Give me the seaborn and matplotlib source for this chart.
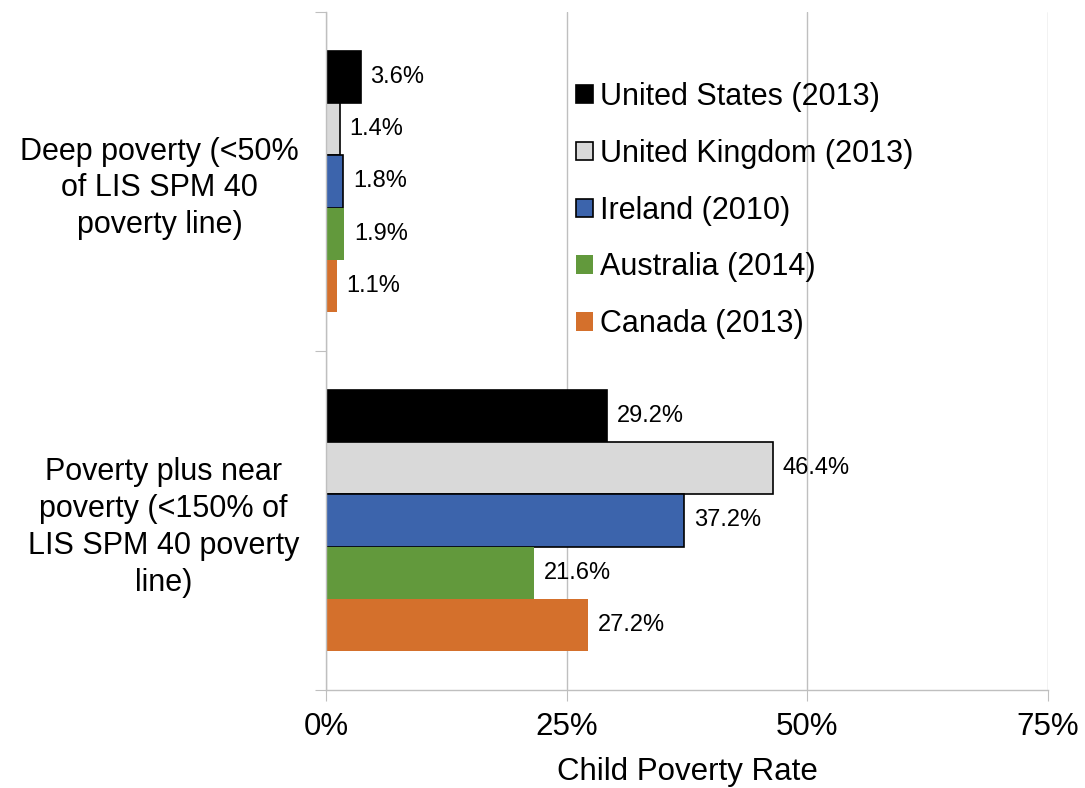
"""Child poverty rate: deep poverty vs poverty plus near poverty, by country"""

import matplotlib
matplotlib.use('Agg')
import matplotlib.pyplot as plt
from matplotlib.ticker import FixedLocator, FuncFormatter
import pandas as pd
import seaborn as sns

# data
measures = ['Deep poverty (<50%\nof LIS SPM 40\npoverty line)',
            'Poverty plus near\npoverty (<150% of\nLIS SPM 40 poverty\nline)']
countries = ['United States (2013)', 'United Kingdom (2013)', 'Ireland (2010)',
             'Australia (2014)', 'Canada (2013)']
deep_rates = [3.6, 1.4, 1.8, 1.9, 1.1]
near_rates = [29.2, 46.4, 37.2, 21.6, 27.2]
x_ticks = [0, 25, 50, 75]

colors = ['#000000', '#D9D9D9', '#3C64AC', '#62993C', '#D4702C']
edges = ['#000000', '#000000', '#000000', 'none', 'none']

df = pd.DataFrame({
    'measure': [measures[0]] * len(countries) + [measures[1]] * len(countries),
    'country': countries * 2,
    'rate': deep_rates + near_rates,
})

sns.set_style('white')
plt.rcParams['font.family'] = ['Liberation Sans', 'DejaVu Sans']
plt.rcParams['text.color'] = 'black'
plt.rcParams['axes.labelcolor'] = 'black'

fig = plt.figure(figsize=(10.85, 7.88), dpi=100)
ax = fig.add_axes([0.3005, 0.1244, 0.6654, 0.8604])

sns.barplot(data=df, y='measure', x='rate', hue='country', orient='h',
            order=measures, hue_order=countries, palette=colors,
            width=0.77, linewidth=0, saturation=1, legend=False, ax=ax)

for cont, ec in zip(ax.containers, edges):
    for p in cont.patches:
        p.set_edgecolor(ec)
        p.set_linewidth(1.2 if ec != 'none' else 0)
    ax.bar_label(cont, fmt='%.1f%%', padding=7, fontsize=17, color='black')

ax.set_xlim(0, 75)
ax.set_ylim(1.5, -0.5)
ax.xaxis.set_major_locator(FixedLocator(x_ticks))
ax.xaxis.set_major_formatter(FuncFormatter(lambda v, _: f'{v:.0f}%'))
ax.grid(axis='x', color='#BFBFBF', linewidth=1)
ax.set_axisbelow(True)

# category boundaries as major ticks, names on minor ticks
ax.yaxis.set_major_locator(FixedLocator([-0.5, 0.5, 1.5]))
ax.yaxis.set_major_formatter(FuncFormatter(lambda v, _: ''))
ax.yaxis.set_minor_locator(FixedLocator([0, 1]))
ax.set_yticklabels(measures, minor=True, fontsize=22, ha='right',
                   multialignment='center', linespacing=1.3)
ax.tick_params(axis='y', which='major', direction='out', length=8,
               color='#BFBFBF', left=True)
ax.tick_params(axis='y', which='minor', length=0, pad=19.5,
               labelcolor='black')
ax.tick_params(axis='x', direction='out', length=8, color='#BFBFBF',
               bottom=True, labelsize=22.5, labelcolor='black', pad=8)

for side in ('top', 'right'):
    ax.spines[side].set_visible(False)
for side in ('left', 'bottom'):
    ax.spines[side].set_color('#BFBFBF')
    ax.spines[side].set_linewidth(1)

ax.set_ylabel('')
ax.set_xlabel('Child Poverty Rate', fontsize=22.5, labelpad=11)

ax.legend(ax.containers, countries, loc='upper left',
          bbox_to_anchor=(0.346, 0.897), frameon=False, fontsize=22,
          handlelength=0.55, handleheight=0.55, handletextpad=0.25,
          labelspacing=0.88, borderpad=0, borderaxespad=0)

plt.savefig('out.png', dpi=100)
plt.close()
